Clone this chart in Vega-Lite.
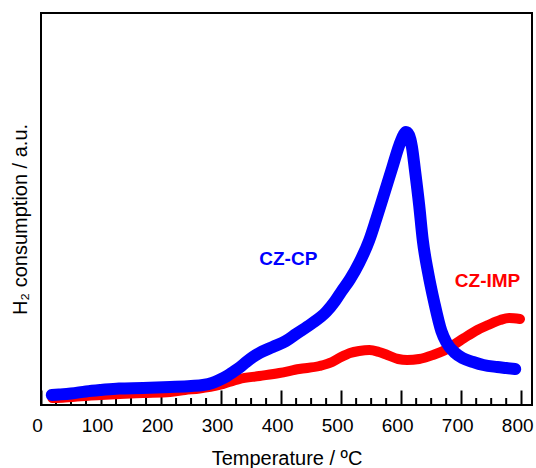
{
  "$schema": "https://vega.github.io/schema/vega-lite/v6.json",
  "width": 491,
  "height": 392,
  "autosize": "none",
  "padding": {"left": 41, "top": 13, "right": 4, "bottom": 63},
  "config": {
    "view": {"stroke": "black", "strokeWidth": 2},
    "font": "Liberation Sans",
    "axis": {"grid": false, "domain": false}
  },
  "datasets": {
    "curves": [
      {"series": "CZ-CP", "temperature": 18, "consumption": 10},
      {"series": "CZ-CP", "temperature": 30, "consumption": 10.5},
      {"series": "CZ-CP", "temperature": 50, "consumption": 11.5},
      {"series": "CZ-CP", "temperature": 75, "consumption": 13.5},
      {"series": "CZ-CP", "temperature": 100, "consumption": 15},
      {"series": "CZ-CP", "temperature": 130, "consumption": 16.5},
      {"series": "CZ-CP", "temperature": 170, "consumption": 17},
      {"series": "CZ-CP", "temperature": 215, "consumption": 18},
      {"series": "CZ-CP", "temperature": 250, "consumption": 19},
      {"series": "CZ-CP", "temperature": 270, "consumption": 20},
      {"series": "CZ-CP", "temperature": 285, "consumption": 22},
      {"series": "CZ-CP", "temperature": 297, "consumption": 25},
      {"series": "CZ-CP", "temperature": 310, "consumption": 29},
      {"series": "CZ-CP", "temperature": 320, "consumption": 33},
      {"series": "CZ-CP", "temperature": 332, "consumption": 38},
      {"series": "CZ-CP", "temperature": 342, "consumption": 43},
      {"series": "CZ-CP", "temperature": 353, "consumption": 48},
      {"series": "CZ-CP", "temperature": 364, "consumption": 52},
      {"series": "CZ-CP", "temperature": 386, "consumption": 58},
      {"series": "CZ-CP", "temperature": 408, "consumption": 64},
      {"series": "CZ-CP", "temperature": 425, "consumption": 71},
      {"series": "CZ-CP", "temperature": 450, "consumption": 81},
      {"series": "CZ-CP", "temperature": 475, "consumption": 93},
      {"series": "CZ-CP", "temperature": 490, "consumption": 104},
      {"series": "CZ-CP", "temperature": 500, "consumption": 113},
      {"series": "CZ-CP", "temperature": 515, "consumption": 126},
      {"series": "CZ-CP", "temperature": 530, "consumption": 142},
      {"series": "CZ-CP", "temperature": 547, "consumption": 165},
      {"series": "CZ-CP", "temperature": 558, "consumption": 185},
      {"series": "CZ-CP", "temperature": 570, "consumption": 208},
      {"series": "CZ-CP", "temperature": 585, "consumption": 237},
      {"series": "CZ-CP", "temperature": 597, "consumption": 260},
      {"series": "CZ-CP", "temperature": 604, "consumption": 270},
      {"series": "CZ-CP", "temperature": 608, "consumption": 273},
      {"series": "CZ-CP", "temperature": 613, "consumption": 270},
      {"series": "CZ-CP", "temperature": 618, "consumption": 258},
      {"series": "CZ-CP", "temperature": 623, "consumption": 235},
      {"series": "CZ-CP", "temperature": 630, "consumption": 200},
      {"series": "CZ-CP", "temperature": 636, "consumption": 165},
      {"series": "CZ-CP", "temperature": 645, "consumption": 132},
      {"series": "CZ-CP", "temperature": 655, "consumption": 103},
      {"series": "CZ-CP", "temperature": 667, "consumption": 74},
      {"series": "CZ-CP", "temperature": 675, "consumption": 63},
      {"series": "CZ-CP", "temperature": 690, "consumption": 52},
      {"series": "CZ-CP", "temperature": 702, "consumption": 47},
      {"series": "CZ-CP", "temperature": 720, "consumption": 43},
      {"series": "CZ-CP", "temperature": 737, "consumption": 40},
      {"series": "CZ-CP", "temperature": 760, "consumption": 38},
      {"series": "CZ-CP", "temperature": 775, "consumption": 37},
      {"series": "CZ-CP", "temperature": 790, "consumption": 36},
      {"series": "CZ-IMP", "temperature": 19, "consumption": 7},
      {"series": "CZ-IMP", "temperature": 40, "consumption": 7.5},
      {"series": "CZ-IMP", "temperature": 60, "consumption": 8.5},
      {"series": "CZ-IMP", "temperature": 100, "consumption": 10},
      {"series": "CZ-IMP", "temperature": 131, "consumption": 11},
      {"series": "CZ-IMP", "temperature": 170, "consumption": 12},
      {"series": "CZ-IMP", "temperature": 215, "consumption": 13},
      {"series": "CZ-IMP", "temperature": 240, "consumption": 15},
      {"series": "CZ-IMP", "temperature": 264, "consumption": 16.5},
      {"series": "CZ-IMP", "temperature": 297, "consumption": 20},
      {"series": "CZ-IMP", "temperature": 330, "consumption": 26},
      {"series": "CZ-IMP", "temperature": 364, "consumption": 29},
      {"series": "CZ-IMP", "temperature": 397, "consumption": 32},
      {"series": "CZ-IMP", "temperature": 430, "consumption": 36},
      {"series": "CZ-IMP", "temperature": 464, "consumption": 39},
      {"series": "CZ-IMP", "temperature": 485, "consumption": 43},
      {"series": "CZ-IMP", "temperature": 500, "consumption": 48},
      {"series": "CZ-IMP", "temperature": 515, "consumption": 52},
      {"series": "CZ-IMP", "temperature": 530, "consumption": 54},
      {"series": "CZ-IMP", "temperature": 547, "consumption": 55},
      {"series": "CZ-IMP", "temperature": 563, "consumption": 53},
      {"series": "CZ-IMP", "temperature": 577, "consumption": 50},
      {"series": "CZ-IMP", "temperature": 595, "consumption": 46},
      {"series": "CZ-IMP", "temperature": 610, "consumption": 45},
      {"series": "CZ-IMP", "temperature": 630, "consumption": 46},
      {"series": "CZ-IMP", "temperature": 653, "consumption": 50},
      {"series": "CZ-IMP", "temperature": 670, "consumption": 54},
      {"series": "CZ-IMP", "temperature": 687, "consumption": 60},
      {"series": "CZ-IMP", "temperature": 705, "consumption": 67},
      {"series": "CZ-IMP", "temperature": 727, "consumption": 75},
      {"series": "CZ-IMP", "temperature": 745, "consumption": 80},
      {"series": "CZ-IMP", "temperature": 765, "consumption": 85},
      {"series": "CZ-IMP", "temperature": 780, "consumption": 87},
      {"series": "CZ-IMP", "temperature": 798, "consumption": 86}
    ],
    "labels": [
      {"series": "CZ-CP", "temperature": 412, "consumption": 140},
      {"series": "CZ-IMP", "temperature": 744, "consumption": 118}
    ],
    "minorTicks": [
      {"temperature": 25}, {"temperature": 50}, {"temperature": 75},
      {"temperature": 125}, {"temperature": 150}, {"temperature": 175},
      {"temperature": 225}, {"temperature": 250}, {"temperature": 275},
      {"temperature": 325}, {"temperature": 350}, {"temperature": 375},
      {"temperature": 425}, {"temperature": 450}, {"temperature": 475},
      {"temperature": 525}, {"temperature": 550}, {"temperature": 575},
      {"temperature": 625}, {"temperature": 650}, {"temperature": 675},
      {"temperature": 725}, {"temperature": 750}, {"temperature": 775}
    ]
  },
  "encoding": {
    "x": {
      "field": "temperature", "type": "quantitative",
      "scale": {"domain": [0, 818], "nice": false, "zero": false},
      "axis": {
        "orient": "bottom",
        "values": [0, 100, 200, 300, 400, 500, 600, 700, 800],
        "ticks": true, "tickSize": -15, "tickColor": "black", "tickWidth": 2,
        "labelFontSize": 19, "labelColor": "black",
        "labelBaseline": "alphabetic", "labelPadding": 41, "labelFlush": false, "labelOffset": -4,
        "title": "Temperature / ºC", "titleFontSize": 20, "titleFontWeight": "normal",
        "titleColor": "black", "titleBaseline": "alphabetic", "titleY": 59
      }
    }
  },
  "layer": [
    {
      "data": {"name": "minorTicks"},
      "mark": {"type": "rule", "color": "black", "strokeWidth": 2},
      "encoding": {
        "y": {
          "datum": 0, "type": "quantitative",
          "scale": {"domain": [0, 392], "nice": false},
          "axis": {
            "orient": "left",
            "labels": false, "ticks": false,
            "title": "H₂ consumption / a.u.", "titleFontSize": 20, "titleFontWeight": "normal",
            "titleColor": "black", "titleBaseline": "alphabetic", "titleX": -15, "titleY": 206
          }
        },
        "y2": {"datum": 7}
      }
    },
    {
      "data": {"name": "curves"},
      "transform": [{"filter": "datum.series === 'CZ-IMP'"}],
      "mark": {"type": "line", "color": "#ff0000", "strokeWidth": 10, "strokeCap": "round", "strokeJoin": "round", "interpolate": "monotone"},
      "encoding": {
        "y": {"field": "consumption", "type": "quantitative"}
      }
    },
    {
      "data": {"name": "curves"},
      "transform": [{"filter": "datum.series === 'CZ-CP'"}],
      "mark": {"type": "line", "color": "#0000ff", "strokeWidth": 12, "strokeCap": "round", "strokeJoin": "round", "interpolate": "monotone"},
      "encoding": {
        "y": {"field": "consumption", "type": "quantitative"}
      }
    },
    {
      "data": {"name": "labels"},
      "mark": {"type": "text", "fontSize": 19, "fontWeight": "bold", "align": "center", "baseline": "alphabetic"},
      "encoding": {
        "y": {"field": "consumption", "type": "quantitative"},
        "text": {"field": "series"},
        "color": {
          "field": "series", "type": "nominal",
          "scale": {"domain": ["CZ-CP", "CZ-IMP"], "range": ["#0000ff", "#ff0000"]},
          "legend": null
        }
      }
    }
  ]
}
